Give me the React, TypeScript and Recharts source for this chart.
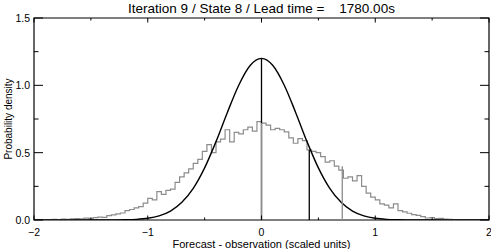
import React from "react";
import { ComposedChart, Line, XAxis, YAxis, ReferenceArea } from "recharts";

// chart box
const W = 491;
const H = 249;
const MARGIN = { top: 18, right: 2, bottom: 0, left: 0 };
const Y_AXIS_W = 34;
const X_AXIS_H = 29;
const PLOT_TOP = MARGIN.top;
const PLOT_BOTTOM = H - MARGIN.bottom - X_AXIS_H;
const PLOT_LEFT = MARGIN.left + Y_AXIS_W;
const PLOT_RIGHT = W - MARGIN.right;
const FONT = "'Liberation Sans', Arial, sans-serif";

const TITLE = "Iteration 9 / State 8 / Lead time =    1780.00s";
const X_LABEL = "Forecast - observation (scaled units)";
const Y_LABEL = "Probability density";

const X_TICKS = [-2, -1.5, -1, -0.5, 0, 0.5, 1, 1.5, 2];
const Y_TICKS = [0, 0.25, 0.5, 0.75, 1, 1.25, 1.5];

// histogram of forecast - observation (bin left edges, width 0.04)
const BIN_START = -1.92;
const BIN_WIDTH = 0.04;
const HIST_DENSITY = [
  0.003, 0.002, 0.004, 0.003, 0.006, 0.005, 0.008, 0.01, 0.009, 0.014,
  0.012, 0.018, 0.022, 0.02, 0.032, 0.038, 0.045, 0.052, 0.07, 0.078,
  0.09, 0.1, 0.125, 0.16, 0.15, 0.21, 0.19, 0.22, 0.23, 0.28,
  0.32, 0.35, 0.38, 0.42, 0.45, 0.51, 0.56, 0.5, 0.58, 0.6,
  0.67, 0.58, 0.65, 0.64, 0.67, 0.69, 0.66, 0.73,
  0.72, 0.705, 0.67, 0.68, 0.67, 0.655, 0.61, 0.57, 0.605, 0.59,
  0.52, 0.51, 0.5, 0.47, 0.43, 0.44, 0.4, 0.37, 0.31, 0.32,
  0.29, 0.33, 0.25, 0.2, 0.17, 0.15, 0.12, 0.11, 0.09, 0.12,
  0.07, 0.06, 0.05, 0.04, 0.035, 0.025, 0.015, 0.018, 0.01, 0.012,
  0.006, 0.004, 0.003,
];

// fitted normal curve
const GAUSS_X = [
  -2, -1.9, -1.8, -1.7, -1.6, -1.5, -1.4, -1.3, -1.2, -1.1, -1, -0.9, -0.8, -0.7,
  -0.6, -0.5, -0.4, -0.3, -0.2, -0.1, 0, 0.1, 0.2, 0.3, 0.4, 0.5, 0.6, 0.7, 0.8,
  0.9, 1, 1.1, 1.2, 1.3, 1.4, 1.5, 1.6, 1.7, 1.8, 1.9, 2,
];
const GAUSS_Y = [
  0, 0, 0, 0, 0, 0, 0, 0.001, 0.002, 0.005, 0.013, 0.031, 0.066, 0.131,
  0.235, 0.387, 0.582, 0.799, 1.001, 1.147, 1.2, 1.147, 1.001, 0.799, 0.582, 0.387,
  0.235, 0.131, 0.066, 0.031, 0.013, 0.005, 0.002, 0.001, 0, 0, 0, 0, 0, 0, 0,
];

// vertical markers
const MARKER_X = [0, 0, 0.42, 0.71];
const MARKER_TOP = [1.2, 0.72, 0.52, 0.4];
const MARKER_COLOR = ["#000000", "#8c8c8c", "#000000", "#8c8c8c"];

const histData = HIST_DENSITY.map((d, i) => ({ x: BIN_START + i * BIN_WIDTH, y: d }));
histData.push({
  x: BIN_START + HIST_DENSITY.length * BIN_WIDTH,
  y: HIST_DENSITY[HIST_DENSITY.length - 1],
});
const gaussData = GAUSS_X.map((x, i) => ({ x, y: GAUSS_Y[i] }));

const fmtX = (v: number) => (v < 0 ? `\u2212${Math.abs(v)}` : `${v}`);

const XTick = (props: any) => {
  const { x, payload } = props;
  const v = payload.value as number;
  const major = Number.isInteger(v);
  const len = major ? 4.5 : 2.5;
  return (
    <g>
      <line x1={x} x2={x} y1={PLOT_BOTTOM} y2={PLOT_BOTTOM - len} stroke="#000" />
      <line x1={x} x2={x} y1={PLOT_TOP} y2={PLOT_TOP + len} stroke="#000" />
      {major && (
        <text x={x} y={PLOT_BOTTOM + 16} textAnchor="middle" fontSize={10.5} fontFamily={FONT} fill="#000">
          {fmtX(v)}
        </text>
      )}
    </g>
  );
};

const YTick = (props: any) => {
  const { y, payload } = props;
  const v = payload.value as number;
  const major = Math.abs(v * 2 - Math.round(v * 2)) < 1e-6;
  const len = major ? 9 : 4.5;
  return (
    <g>
      <line x1={PLOT_LEFT} x2={PLOT_LEFT + len} y1={y} y2={y} stroke="#000" />
      <line x1={PLOT_RIGHT} x2={PLOT_RIGHT - len} y1={y} y2={y} stroke="#000" />
      {major && (
        <text x={PLOT_LEFT - 4} y={y + 4} textAnchor="end" fontSize={10.5} fontFamily={FONT} fill="#000">
          {v.toFixed(1)}
        </text>
      )}
    </g>
  );
};

export default function App() {
  return (
    <div style={{ position: "absolute", left: 0, top: 0, width: W, height: H, background: "#fff" }}>
      <div
        style={{
          position: "absolute",
          left: PLOT_LEFT,
          width: PLOT_RIGHT - PLOT_LEFT,
          top: 1,
          textAlign: "center",
          fontFamily: FONT,
          fontSize: 13.5,
          lineHeight: "15px",
          whiteSpace: "pre",
        }}
      >
        {TITLE}
      </div>
      <ComposedChart width={W} height={H} margin={MARGIN}>
        <XAxis
          dataKey="x"
          type="number"
          domain={[-2, 2]}
          ticks={X_TICKS}
          interval={0}
          height={X_AXIS_H}
          axisLine={false}
          tickLine={false}
          tick={<XTick />}
          allowDataOverflow
          label={{ value: X_LABEL, position: "insideBottom", offset: 1, fontSize: 11, fontFamily: FONT, fill: "#000" }}
        />
        <YAxis
          type="number"
          domain={[0, 1.5]}
          ticks={Y_TICKS}
          interval={0}
          width={Y_AXIS_W}
          axisLine={false}
          tickLine={false}
          tick={<YTick />}
          allowDataOverflow
          label={{
            value: Y_LABEL,
            angle: -90,
            position: "insideLeft",
            offset: 8,
            fontSize: 10,
            fontFamily: FONT,
            fill: "#000",
            style: { textAnchor: "middle" },
          }}
        />
        <ReferenceArea x1={-2} x2={2} y1={0} y2={1.5} fill="none" stroke="#000" strokeWidth={1.2} ifOverflow="visible" />
        <Line
          data={histData}
          dataKey="y"
          type="stepAfter"
          stroke="#8c8c8c"
          strokeWidth={1.2}
          dot={false}
          isAnimationActive={false}
        />
        <Line
          data={gaussData}
          dataKey="y"
          type="monotone"
          stroke="#000"
          strokeWidth={1.4}
          dot={false}
          isAnimationActive={false}
        />
        {MARKER_X.map((mx, i) => (
          <Line
            key={`marker-${i}`}
            data={[
              { x: mx, y: 0 },
              { x: mx, y: MARKER_TOP[i] },
            ]}
            dataKey="y"
            type="linear"
            stroke={MARKER_COLOR[i]}
            strokeWidth={1.3}
            dot={false}
            isAnimationActive={false}
          />
        ))}
      </ComposedChart>
    </div>
  );
}
